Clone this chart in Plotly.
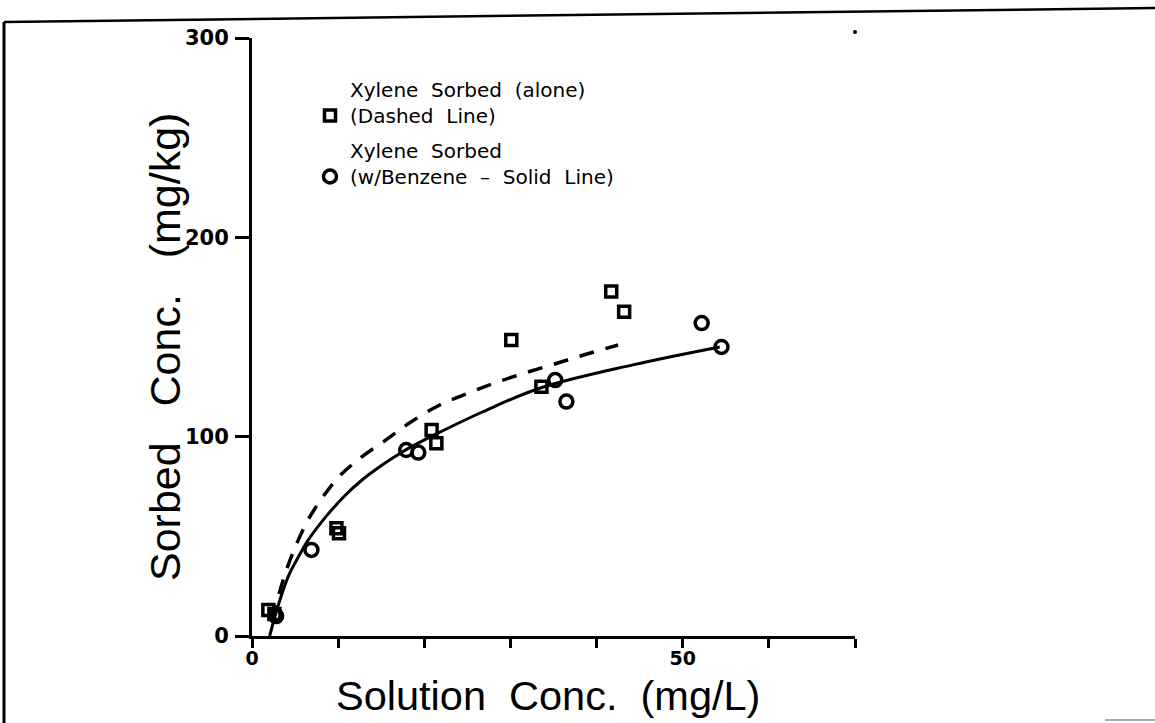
import plotly.graph_objects as go

# ---------------- data ----------------
alone_x = [1.9, 2.6, 9.8, 10.1, 20.85, 21.4, 30.1, 33.6, 41.7, 43.2]
alone_y = [13.0, 11.0, 54.0, 51.5, 103.4, 96.7, 148.5, 125.0, 172.8, 162.7]

benz_x = [2.8, 6.9, 17.9, 19.3, 35.2, 36.5, 52.2, 54.5]
benz_y = [10.0, 43.2, 93.3, 92.0, 128.4, 117.6, 157.0, 145.0]

solid_x = [2.05, 3.0, 4.2, 5.4, 6.5, 8.8, 10.8, 12.7, 14.7, 16.6, 18.1, 21.0, 26.8, 33.4, 44.2, 54.3]
solid_y = [0.0, 14.7, 29.8, 39.8, 48.0, 61.0, 70.5, 78.0, 84.5, 90.0, 94.0, 100.5, 112.5, 124.3, 136.0, 145.0]

dashed_x = [2.4, 2.95, 3.8, 4.8, 6.35, 8.1, 10.2, 12.7, 15.6, 18.4, 21.8, 25.1, 28.3, 31.7, 35.0, 38.2, 42.5]
dashed_y = [8.0, 18.0, 30.6, 42.3, 57.0, 69.0, 80.4, 89.7, 98.5, 107.2, 115.9, 121.8, 127.1, 132.0, 136.3, 140.6, 146.0]

x_tick_vals = [0, 10, 20, 30, 40, 50, 60, 70]
x_tick_text = ["0", "", "", "", "", "50", "", ""]
y_tick_vals = [0, 100, 200, 300]
y_tick_text = ["0", "100", "200", "300"]

name_alone = "Xylene\u00a0 Sorbed\u00a0 (alone)<br>(Dashed\u00a0 Line)"
name_benz = "Xylene\u00a0 Sorbed<br>(w/Benzene\u00a0 \u2013\u00a0 Solid\u00a0 Line)"

# ---------------- layout geometry ----------------
W, H = 1155, 723
L, R, T, B = 252, 855, 38, 636   # plot area in pixels


def px(xp):
    return (xp - L) / (R - L)


def py(yp):
    return (B - yp) / (B - T)


fig = go.Figure()

fig.add_trace(go.Scatter(
    x=dashed_x, y=dashed_y, mode="lines", line_shape="spline",
    line=dict(color="black", width=3.5, dash="15px,12px"),
    showlegend=False, hoverinfo="skip"))
fig.add_trace(go.Scatter(
    x=solid_x, y=solid_y, mode="lines", line_shape="spline",
    line=dict(color="black", width=3),
    showlegend=False, hoverinfo="skip"))

fig.add_trace(go.Scatter(
    x=alone_x, y=alone_y, mode="markers", name=name_alone, legendgroup="a",
    marker=dict(symbol="square-open", size=11, color="black",
                line=dict(width=3.5, color="black"))))
fig.add_trace(go.Scatter(
    x=benz_x, y=benz_y, mode="markers", name=name_benz, legendgroup="b",
    marker=dict(symbol="circle-open", size=13, color="black",
                line=dict(width=3.5, color="black"))))

fig.update_layout(
    width=W, height=H,
    margin=dict(l=L, r=W - R, t=T, b=H - B, pad=0),
    paper_bgcolor="white", plot_bgcolor="white",
    font=dict(family="DejaVu Sans", color="black"),
    showlegend=True,
    legend=dict(x=px(310), y=py(70), xanchor="left", yanchor="top",
                bgcolor="rgba(0,0,0,0)", borderwidth=0,
                font=dict(family="DejaVu Sans", size=20, color="black"),
                valign="bottom", tracegroupgap=6, traceorder="grouped"),
    xaxis=dict(range=[0, 70], showgrid=False, zeroline=False,
               showline=True, linewidth=3, linecolor="black",
               ticks="outside", ticklen=9, tickwidth=2.5, tickcolor="black",
               tickvals=x_tick_vals, ticktext=x_tick_text, ticklabelstandoff=-6,
               tickfont=dict(family="DejaVu Sans", size=19, weight="bold", color="black")),
    yaxis=dict(range=[0, 300], showgrid=False, zeroline=False,
               showline=True, linewidth=3, linecolor="black",
               ticks="outside", ticklen=14, tickwidth=2.5, tickcolor="black",
               tickvals=y_tick_vals, ticktext=y_tick_text, ticklabelstandoff=2,
               tickfont=dict(family="DejaVu Sans", size=21, weight="bold", color="black")),
)

fig.add_annotation(
    text="Solution\u00a0 Conc.\u00a0 (mg/L)", xref="paper", yref="paper",
    x=px(548), y=py(695), xanchor="center", yanchor="middle", showarrow=False,
    font=dict(family="Liberation Sans", size=41.5, color="black"))
fig.add_annotation(
    text="Sorbed\u00a0\u00a0 Conc.\u00a0\u00a0 (mg/kg)", xref="paper", yref="paper",
    x=px(165), y=py(347), xanchor="center", yanchor="middle", showarrow=False,
    textangle=-90,
    font=dict(family="Liberation Sans", size=43, color="black"))

# scanned page frame
fig.add_shape(type="line", xref="paper", yref="paper",
              x0=px(4), y0=py(22), x1=px(4), y1=py(723),
              line=dict(color="black", width=3))
fig.add_shape(type="line", xref="paper", yref="paper",
              x0=px(4), y0=py(22), x1=px(1155), y1=py(8),
              line=dict(color="black", width=2.5))
fig.add_shape(type="line", xref="paper", yref="paper",
              x0=px(1105), y0=py(720), x1=px(1155), y1=py(720),
              line=dict(color="#aaaaaa", width=2))
fig.add_shape(type="circle", xref="paper", yref="paper",
              x0=px(853), y0=py(34), x1=px(857), y1=py(30),
              fillcolor="black", line=dict(color="black", width=0))

fig.write_html("out.html",
               config={"displayModeBar": False},
               post_script="document.body.style.margin='0';document.body.style.overflow='hidden';")
